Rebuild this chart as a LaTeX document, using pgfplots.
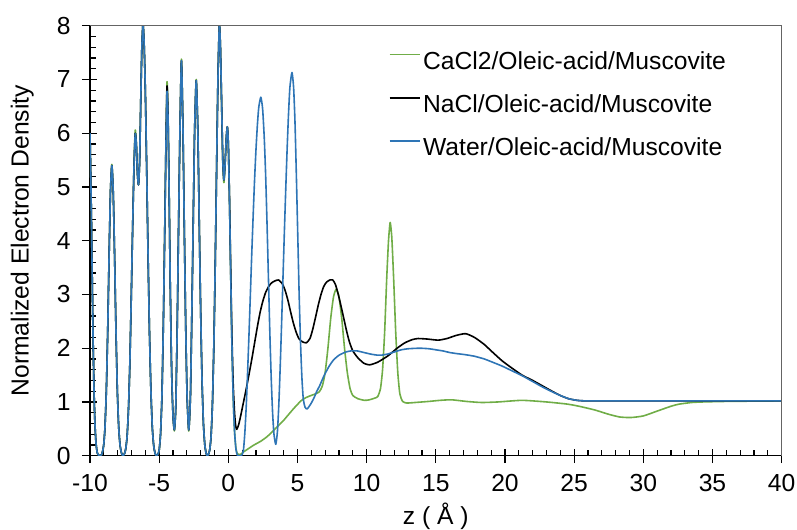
\documentclass[border=0pt]{standalone}
\usepackage{fontspec}
\setmainfont{Liberation Sans}
\usepackage{pgfplots}
\pgfplotsset{compat=1.18}
\definecolor{cgreen}{RGB}{112,173,71}
\definecolor{cblue}{RGB}{46,117,182}
\definecolor{cframe}{RGB}{100,100,100}

\begin{document}
\begin{tikzpicture}[font=\fontsize{18.5}{22}\selectfont]
\begin{axis}[name=ax, scale only axis, width=518.8pt, height=322.5pt,
 xmin=-10, xmax=40, ymin=0, ymax=8,
 axis x line*=bottom, axis y line*=left,
 axis line style={black, line width=0.9pt},
 xtick={-10,-5,...,40}, ytick={0,1,...,8},
 minor x tick num=4, minor y tick num=4,
 tick align=inside, major tick length=5pt, minor tick length=4.5pt,
 tick style={black, line width=0.9pt},
 extra x ticks={-10,-5,...,40}, extra x tick labels={},
 extra x tick style={tick align=outside, major tick length=5.5pt},
 extra y ticks={0,1,...,8}, extra y tick labels={},
 extra y tick style={tick align=outside, major tick length=6pt},
 /pgf/number format/assume math mode=true,
 xticklabel style={yshift=-10.5pt},
 yticklabel style={xshift=-11pt},
 xlabel={z ( Å )}, ylabel={Normalized Electron Density},
 xlabel style={at={(axis description cs:0.5,-0.142)}, anchor=center},
 ylabel style={at={(axis description cs:-0.098,0.5)}, anchor=center},
 clip mode=individual,
 legend cell align=left,
 legend style={draw=none, fill=none, inner sep=0pt, outer sep=0pt,
   at={(axis description cs:0.432,0.939)}, anchor=north west,
   row sep=15.4pt, column sep=0pt,
   nodes={inner xsep=1.5pt, inner ysep=0pt, text height=13pt, text depth=4pt}},
 legend image code/.code={\draw[#1] (0pt,6.5pt) -- (23pt,6.5pt);},
 every axis plot/.append style={line width=1.2pt, line join=round, smooth, tension=0.35},
]
% CaCl2
\addplot[cgreen] coordinates {
(-10.00,6.00) (-9.93,5.0) (-9.86,3.7) (-9.79,2.4) (-9.72,1.35) (-9.65,0.65) (-9.57,0.25) (-9.48,0.06) (-9.38,0.01) (-9.27,0.00) (-9.16,0.02) (-9.07,0.10) (-9.00,0.22) (-8.92,0.51) (-8.82,1.19) (-8.72,2.31) (-8.62,3.70) (-8.52,4.91) (-8.42,5.42) (-8.32,4.91) (-8.22,3.70) (-8.12,2.31) (-8.02,1.19) (-7.92,0.51) (-7.82,0.18) (-7.72,0.05) (-7.63,0.00) (-7.52,0.03) (-7.42,0.12) (-7.32,0.35) (-7.22,0.85) (-7.12,1.70) (-7.02,2.90) (-6.92,4.20) (-6.82,5.40) (-6.73,6.06) (-6.65,5.82) (-6.57,5.25) (-6.49,5.04) (-6.41,5.50) (-6.33,6.60) (-6.25,7.60) (-6.17,8.03) (-6.09,7.70) (-6.00,6.80) (-5.90,5.30) (-5.80,3.70) (-5.70,2.30) (-5.60,1.25) (-5.50,0.55) (-5.40,0.20) (-5.30,0.05) (-5.21,0.00) (-5.10,0.02) (-5.00,0.10) (-4.90,0.40) (-4.80,1.10) (-4.70,2.40) (-4.60,4.15) (-4.50,6.00) (-4.43,6.96) (-4.36,6.40) (-4.28,4.95) (-4.20,3.20) (-4.10,1.60) (-4.00,0.75) (-3.90,0.46) (-3.80,0.90) (-3.70,2.30) (-3.60,4.20) (-3.50,6.00) (-3.39,7.38) (-3.28,6.10) (-3.18,4.20) (-3.08,2.40) (-2.98,1.10) (-2.86,0.46) (-2.74,1.10) (-2.64,2.60) (-2.54,4.30) (-2.44,6.00) (-2.32,7.00) (-2.20,6.00) (-2.10,4.30) (-2.00,2.70) (-1.90,1.40) (-1.80,0.60) (-1.70,0.20) (-1.60,0.04) (-1.53,0.00) (-1.45,0.02) (-1.35,0.10) (-1.25,0.35) (-1.15,0.95) (-1.05,2.00) (-0.95,3.50) (-0.85,5.30) (-0.75,7.00) (-0.65,8.03) (-0.57,7.60) (-0.48,6.45) (-0.40,5.45) (-0.32,5.08) (-0.24,5.40) (-0.15,5.90) (-0.07,6.12) (0.00,5.80)
(0.08,4.80) (0.16,3.55) (0.25,2.20) (0.35,1.10) (0.45,0.45) (0.55,0.14) (0.65,0.04) (0.85,0.02) (1.10,0.07) (1.50,0.14) (1.86,0.20) (2.35,0.27) (2.83,0.36) (3.30,0.48) (3.70,0.58) (4.04,0.67) (4.40,0.78) (4.77,0.89) (5.25,1.02) (5.60,1.08) (5.98,1.12) (6.30,1.15) (6.58,1.19) (6.80,1.30) (7.00,1.55) (7.20,2.00) (7.40,2.55) (7.60,2.95) (7.80,3.10) (8.00,2.95) (8.20,2.55) (8.40,2.00) (8.60,1.55) (8.80,1.25) (9.00,1.12) (9.37,1.06) (9.85,1.03) (10.20,1.04) (10.57,1.07) (10.80,1.10) (11.00,1.25) (11.15,1.60) (11.30,2.30) (11.45,3.30) (11.58,4.00) (11.70,4.34) (11.82,4.05) (11.95,3.30) (12.10,2.30) (12.25,1.55) (12.40,1.15) (12.60,1.01) (12.90,0.98) (13.50,0.99) (14.50,1.01) (15.30,1.03) (16.14,1.04) (17.20,1.01) (18.30,0.99) (19.50,1.00) (21.23,1.03) (23.00,1.00) (24.50,0.96) (25.35,0.92) (26.50,0.85) (27.50,0.77) (28.30,0.72) (29.10,0.71) (30.00,0.74) (31.00,0.83) (32.00,0.92) (32.60,0.96) (33.50,0.99) (34.30,1.00) (36.00,1.01) (40.00,1.02)
};
\addlegendentry{CaCl2/Oleic-acid/Muscovite}
% NaCl
\addplot[black] coordinates {
(-10.00,6.00) (-9.93,5.0) (-9.86,3.7) (-9.79,2.4) (-9.72,1.35) (-9.65,0.65) (-9.57,0.25) (-9.48,0.06) (-9.38,0.01) (-9.27,0.00) (-9.16,0.02) (-9.07,0.10) (-9.00,0.22) (-8.92,0.51) (-8.82,1.19) (-8.72,2.31) (-8.62,3.70) (-8.52,4.91) (-8.42,5.40) (-8.32,4.91) (-8.22,3.70) (-8.12,2.31) (-8.02,1.19) (-7.92,0.51) (-7.82,0.18) (-7.72,0.05) (-7.63,0.00) (-7.52,0.03) (-7.42,0.12) (-7.32,0.35) (-7.22,0.85) (-7.12,1.70) (-7.02,2.90) (-6.92,4.20) (-6.82,5.35) (-6.73,6.00) (-6.65,5.80) (-6.57,5.25) (-6.49,5.04) (-6.41,5.50) (-6.33,6.60) (-6.25,7.60) (-6.17,8.03) (-6.09,7.70) (-6.00,6.80) (-5.90,5.30) (-5.80,3.70) (-5.70,2.30) (-5.60,1.25) (-5.50,0.55) (-5.40,0.20) (-5.30,0.05) (-5.21,0.00) (-5.10,0.02) (-5.00,0.10) (-4.90,0.40) (-4.80,1.10) (-4.70,2.40) (-4.60,4.12) (-4.50,5.95) (-4.43,6.88) (-4.36,6.35) (-4.28,4.92) (-4.20,3.20) (-4.10,1.60) (-4.00,0.75) (-3.90,0.48) (-3.80,0.90) (-3.70,2.30) (-3.60,4.20) (-3.50,6.00) (-3.39,7.35) (-3.28,6.10) (-3.18,4.20) (-3.08,2.40) (-2.98,1.10) (-2.86,0.48) (-2.74,1.10) (-2.64,2.60) (-2.54,4.30) (-2.44,6.00) (-2.32,6.98) (-2.20,6.00) (-2.10,4.30) (-2.00,2.70) (-1.90,1.40) (-1.80,0.60) (-1.70,0.20) (-1.60,0.04) (-1.53,0.00) (-1.45,0.02) (-1.35,0.10) (-1.25,0.35) (-1.15,0.95) (-1.05,2.00) (-0.95,3.50) (-0.85,5.30) (-0.75,7.00) (-0.65,8.03) (-0.57,7.60) (-0.48,6.50) (-0.40,5.50) (-0.32,5.13) (-0.24,5.40) (-0.15,5.90) (-0.07,6.12) (0.00,5.80)
(0.08,4.85) (0.16,3.65) (0.25,2.35) (0.35,1.35) (0.45,0.80) (0.53,0.56) (0.61,0.49) (0.75,0.58) (0.90,0.75) (1.10,1.00) (1.30,1.25) (1.50,1.52) (1.70,1.80) (1.90,2.10) (2.10,2.40) (2.30,2.67) (2.50,2.88) (2.70,3.04) (2.90,3.14) (3.10,3.21) (3.35,3.25) (3.63,3.27) (3.90,3.20) (4.10,3.08) (4.30,2.90) (4.50,2.68) (4.70,2.47) (4.90,2.30) (5.10,2.18) (5.35,2.12) (5.64,2.10) (5.90,2.18) (6.10,2.35) (6.30,2.57) (6.50,2.80) (6.70,3.00) (6.90,3.15) (7.10,3.23) (7.35,3.27) (7.55,3.27) (7.75,3.18) (7.95,3.00) (8.15,2.78) (8.35,2.55) (8.55,2.32) (8.75,2.12) (9.00,1.95) (9.37,1.82) (9.80,1.72) (10.21,1.69) (10.80,1.74) (11.55,1.86) (12.20,2.00) (12.76,2.10) (13.30,2.16) (13.72,2.18) (14.40,2.17) (15.17,2.15) (15.80,2.18) (16.50,2.24) (17.16,2.27) (17.80,2.20) (18.50,2.07) (19.00,1.95) (19.77,1.77) (20.50,1.63) (21.23,1.50) (22.00,1.40) (22.70,1.30) (23.40,1.20) (24.00,1.12) (24.60,1.06) (25.20,1.03) (25.80,1.02) (27.00,1.02) (30.00,1.02) (35.00,1.02) (40.00,1.02)
};
\addlegendentry{NaCl/Oleic-acid/Muscovite}
% Water
\addplot[cblue] coordinates {
(-10.00,6.00) (-9.93,5.0) (-9.86,3.7) (-9.79,2.4) (-9.72,1.35) (-9.65,0.65) (-9.57,0.25) (-9.48,0.06) (-9.38,0.01) (-9.27,0.00) (-9.16,0.02) (-9.07,0.10) (-9.00,0.22) (-8.92,0.51) (-8.82,1.19) (-8.72,2.31) (-8.62,3.70) (-8.52,4.91) (-8.42,5.40) (-8.32,4.91) (-8.22,3.70) (-8.12,2.31) (-8.02,1.19) (-7.92,0.51) (-7.82,0.18) (-7.72,0.05) (-7.63,0.00) (-7.52,0.03) (-7.42,0.12) (-7.32,0.35) (-7.22,0.85) (-7.12,1.70) (-7.02,2.90) (-6.92,4.20) (-6.82,5.35) (-6.73,5.99) (-6.65,5.80) (-6.57,5.25) (-6.49,5.04) (-6.41,5.50) (-6.33,6.60) (-6.25,7.60) (-6.17,8.03) (-6.09,7.70) (-6.00,6.80) (-5.90,5.30) (-5.80,3.70) (-5.70,2.30) (-5.60,1.25) (-5.50,0.55) (-5.40,0.20) (-5.30,0.05) (-5.21,0.00) (-5.10,0.02) (-5.00,0.10) (-4.90,0.40) (-4.80,1.10) (-4.70,2.40) (-4.60,4.10) (-4.50,5.90) (-4.43,6.78) (-4.36,6.30) (-4.28,4.90) (-4.20,3.20) (-4.10,1.60) (-4.00,0.75) (-3.90,0.48) (-3.80,0.90) (-3.70,2.30) (-3.60,4.20) (-3.50,6.00) (-3.39,7.35) (-3.28,6.10) (-3.18,4.20) (-3.08,2.40) (-2.98,1.10) (-2.86,0.48) (-2.74,1.10) (-2.64,2.60) (-2.54,4.30) (-2.44,6.00) (-2.32,6.98) (-2.20,6.00) (-2.10,4.30) (-2.00,2.70) (-1.90,1.40) (-1.80,0.60) (-1.70,0.20) (-1.60,0.04) (-1.53,0.00) (-1.45,0.02) (-1.35,0.10) (-1.25,0.35) (-1.15,0.95) (-1.05,2.00) (-0.95,3.50) (-0.85,5.30) (-0.75,7.00) (-0.65,8.03) (-0.57,7.60) (-0.48,6.50) (-0.40,5.50) (-0.32,5.13) (-0.24,5.40) (-0.15,5.90) (-0.07,6.12) (0.00,5.80)
(0.08,4.80) (0.16,3.55) (0.25,2.20) (0.35,1.10) (0.45,0.45) (0.55,0.12) (0.65,0.01) (0.75,0.00) (0.90,0.00) (1.00,0.02) (1.10,0.12) (1.20,0.45) (1.30,0.95) (1.40,1.60) (1.50,2.30) (1.60,3.05) (1.70,3.80) (1.80,4.50) (1.90,5.15) (2.00,5.70) (2.10,6.15) (2.20,6.48) (2.35,6.67) (2.48,6.45) (2.60,5.90) (2.70,5.20) (2.80,4.30) (2.90,3.30) (3.00,2.30) (3.10,1.45) (3.20,0.80) (3.30,0.40) (3.43,0.21) (3.55,0.45) (3.65,0.95) (3.75,1.65) (3.85,2.45) (3.95,3.30) (4.05,4.15) (4.15,4.95) (4.25,5.70) (4.35,6.35) (4.45,6.85) (4.60,7.13) (4.72,6.85) (4.82,6.20) (4.92,5.20) (5.02,4.10) (5.12,3.00) (5.22,2.10) (5.32,1.45) (5.42,1.05) (5.55,0.90) (5.69,0.87) (5.85,0.92) (6.00,0.98) (6.20,1.08) (6.40,1.20) (6.60,1.30) (6.80,1.42) (7.00,1.53) (7.30,1.67) (7.60,1.78) (8.00,1.87) (8.50,1.93) (8.88,1.95) (9.30,1.95) (9.80,1.92) (10.30,1.89) (10.80,1.87) (11.06,1.87) (11.50,1.89) (12.00,1.93) (12.50,1.97) (13.00,1.99) (13.84,2.00) (14.50,1.99) (15.00,1.97) (15.50,1.95) (16.00,1.92) (16.50,1.90) (17.12,1.88) (17.80,1.85) (18.50,1.80) (19.00,1.75) (19.77,1.67) (20.50,1.58) (21.23,1.49) (22.00,1.38) (22.70,1.28) (23.40,1.19) (24.00,1.12) (24.60,1.06) (25.20,1.03) (25.80,1.02) (27.00,1.02) (30.00,1.02) (35.00,1.02) (40.00,1.02)
};
\addlegendentry{Water/Oleic-acid/Muscovite}
\draw[cframe, line width=0.9pt] (rel axis cs:0,1) -- (rel axis cs:1,1) -- (rel axis cs:1,0);
\end{axis}
\pgfresetboundingbox
\path[use as bounding box] ([shift={(-67.5pt,-55pt)}]ax.south west) rectangle ([shift={(11.5pt,19.3pt)}]ax.north east);
\end{tikzpicture}
\end{document}
